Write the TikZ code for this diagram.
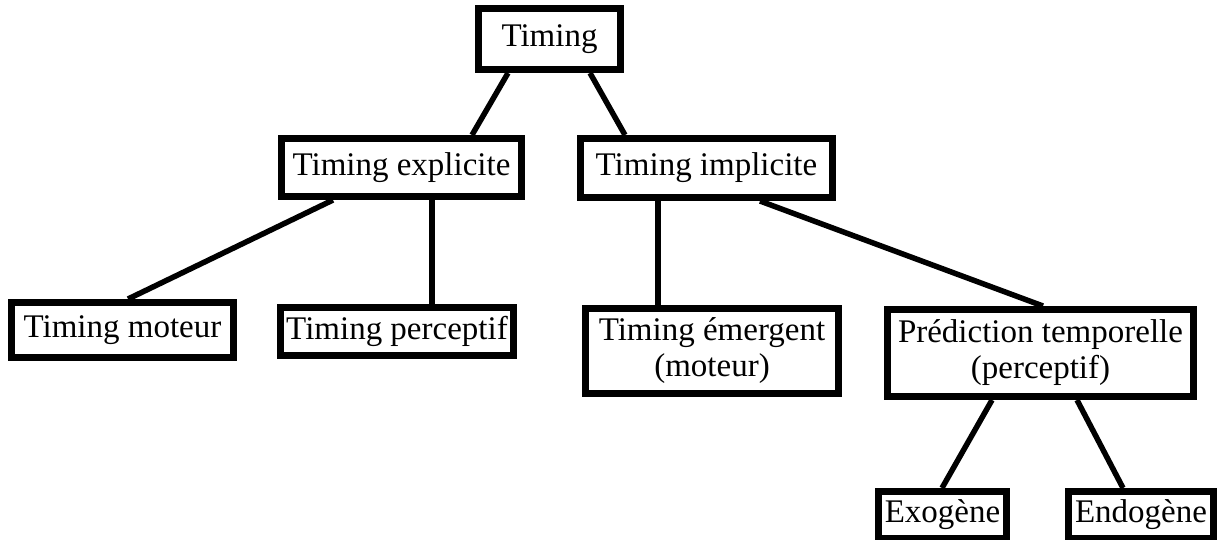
\documentclass[tikz,border=0pt]{standalone}
\usepackage{fontspec}
\setmainfont{Liberation Serif}
\usetikzlibrary{positioning}

\begin{document}
\begin{tikzpicture}[
  every node/.style={font=\fontsize{33}{36}\selectfont},
  boite/.style={draw=black, line width=7pt, inner sep=4pt, align=center},
  lien/.style={line width=5.5pt}
]
\useasboundingbox (0,0) rectangle (1219pt,-539pt);

% Racine
\node[boite, minimum width=142pt, minimum height=61pt] (timing) at (549.5pt,-39pt) {Timing};

% Premier niveau
\node[boite, below=62pt of timing, xshift=-148pt,
  minimum width=240pt, minimum height=58pt] (explicite) {Timing explicite};

\node[boite, below=62pt of timing, xshift=157pt,
  minimum width=252pt, minimum height=59pt] (implicite) {Timing implicite};

% Second niveau
\node[boite, below=99pt of explicite, xshift=-279pt,
  minimum width=222pt, minimum height=55pt] (moteur) {Timing moteur};

\node[boite, below=104pt of explicite, xshift=-4.5pt,
  minimum width=233pt, minimum height=48pt] (perceptif) {Timing perceptif};

\node[boite, below=104pt of implicite, xshift=5.5pt,
  minimum width=253pt, minimum height=85pt] (emergent) {Timing émergent\\(moteur)};

\node[boite, below=105pt of implicite, xshift=334pt,
  minimum width=306pt, minimum height=87pt] (prediction) {Prédiction temporelle\\(perceptif)};

% Troisième niveau
\node[boite, below=88pt of prediction, xshift=-98pt,
  minimum width=128pt, minimum height=47pt] (exogene) {Exogène};

\node[boite, below=88pt of prediction, xshift=100.5pt,
  minimum width=145pt, minimum height=47pt] (endogene) {Endogène};

% Liaisons
\draw[lien] ([xshift=-41.5pt]timing.south) -- ([xshift=70.5pt]explicite.north);
\draw[lien] ([xshift=40.5pt]timing.south) -- ([xshift=-81.5pt]implicite.north);
\draw[lien] ([xshift=-68.5pt]explicite.south) -- ([xshift=5.5pt]moteur.north);
\draw[lien] ([xshift=30.5pt]explicite.south) -- ([xshift=35pt]perceptif.north);
\draw[lien] ([xshift=-48.5pt]implicite.south) -- ([xshift=-54pt]emergent.north);
\draw[lien] ([xshift=53.5pt]implicite.south) -- ([xshift=2.5pt]prediction.north);
\draw[lien] ([xshift=-48.5pt]prediction.south) -- ([xshift=-0.5pt]exogene.north);
\draw[lien] ([xshift=36.5pt]prediction.south) -- ([xshift=-18pt]endogene.north);

\end{tikzpicture}
\end{document}
